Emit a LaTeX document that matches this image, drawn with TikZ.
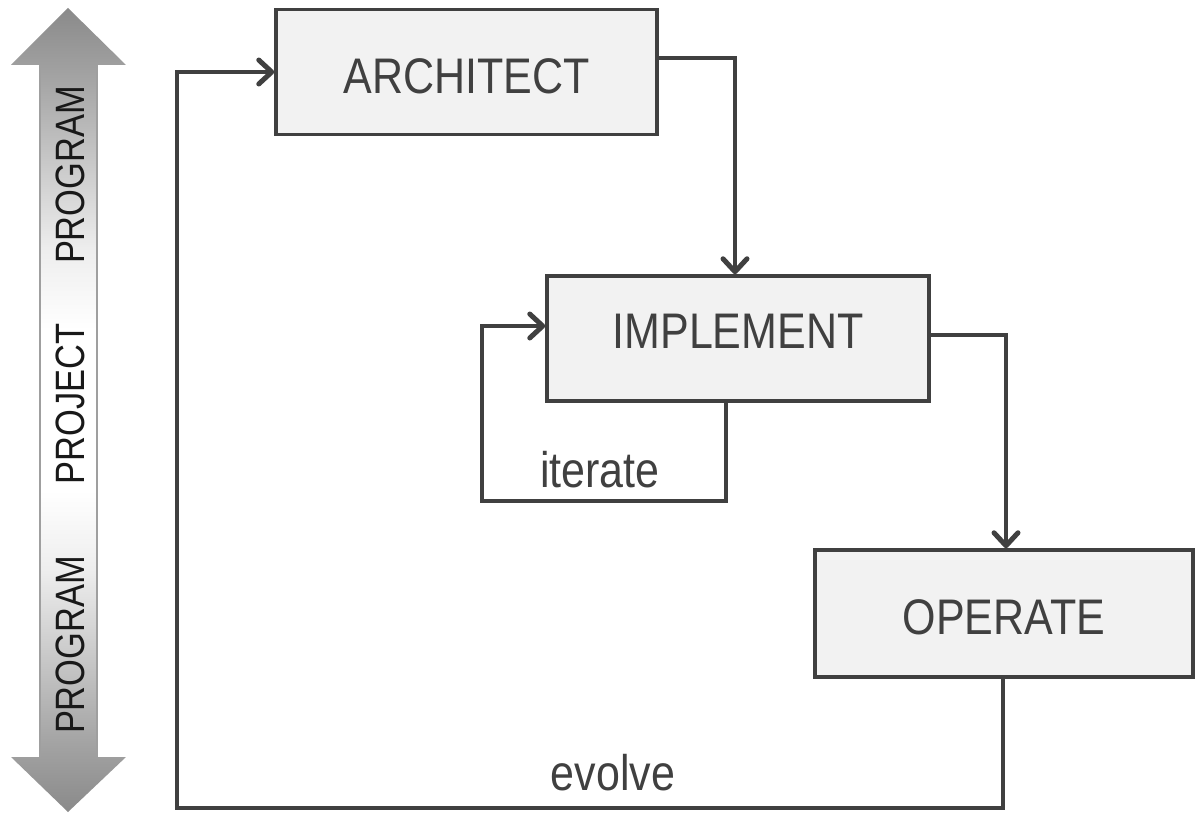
\documentclass[tikz,border=0pt]{standalone}
\usepackage{fontspec}
\setmainfont{Liberation Sans}[FakeStretch=0.86]
\newfontfamily\sidefont{Liberation Sans}[FakeStretch=0.84]
\usetikzlibrary{arrows.meta}
\definecolor{ink}{HTML}{404040}
\definecolor{boxfill}{HTML}{F2F2F2}
\definecolor{shaftgray}{HTML}{8A8A8A}
% grey ends fading to a wide white band in the middle
% (TikZ maps the band 25bp..75bp of a 100bp shading onto the path)
\pgfdeclareverticalshading{scopeshade}{100bp}{%
  color(0bp)=(shaftgray); color(25bp)=(shaftgray);
  color(29bp)=(shaftgray!80!white); color(40bp)=(shaftgray!15!white);
  color(45bp)=(white); color(55bp)=(white);
  color(60bp)=(shaftgray!15!white); color(71bp)=(shaftgray!80!white);
  color(75bp)=(shaftgray); color(100bp)=(shaftgray)}
\tikzset{
  stagebox/.style={draw=ink, fill=boxfill, line width=3.5pt, inner sep=0pt,
    text=ink, font=\fontsize{50}{60}\selectfont},
  conn/.style={draw=ink, line width=3.5pt,
    -{Straight Barb[length=13pt,width=24pt,round,line width=1.5pt 1]}},
  looplabel/.style={text=ink, font=\fontsize{50}{60}\selectfont, anchor=base, inner sep=0pt},
  scopelabel/.style={text=black!90, font=\sidefont\fontsize{41}{50}\selectfont,
    rotate=90, inner sep=0pt},
}
\begin{document}
\begin{tikzpicture}[x=1pt,y=-1pt]
\useasboundingbox (0,0) rectangle (1195,816);

% vertical scope arrow
\path[shading=scopeshade]
  (68,8) -- (126,65) -- (97,65) -- (97,757) -- (126,757) -- (68,812)
  -- (11,757) -- (40,757) -- (40,65) -- (11,65) -- cycle;
\draw[gray!75, line width=1.5pt] (40,65) -- (40,757);
\draw[gray!75, line width=1.5pt] (97,65) -- (97,757);

\node[scopelabel] (progtop) at (70,175) {PROGRAM};
\node[scopelabel] (proj) at (70,404) {PROJECT};
\node[scopelabel] (progbot) at (70,645) {PROGRAM};

% stage boxes
\node[stagebox, minimum width=381pt, minimum height=125pt,
  text height=42pt, text depth=0pt] (arch) at (466.5,72) {ARCHITECT};
\node[stagebox, minimum width=382pt, minimum height=125pt,
  text height=36pt, text depth=17pt] (impl) at (738,338.5) {IMPLEMENT};
\node[stagebox, minimum width=378pt, minimum height=127pt,
  text height=41pt, text depth=0pt] (op) at (1004,613.5) {OPERATE};

% bend points of the feedback loops
\coordinate (itcorner) at (482,501);
\coordinate (evcorner) at (177,808);

% forward flow
\draw[conn] ([yshift=14pt]arch.east) -| ([xshift=-3pt]impl.north);
\draw[conn] ([yshift=3.5pt]impl.east) -| ([xshift=2pt]op.north);

% iterate loop
\draw[conn] ([xshift=-12pt]impl.south) |- (itcorner) |- ([yshift=12.5pt]impl.west);
\node[looplabel] (iterlbl) at (600,487) {iterate};

% evolve loop
\draw[conn] ([xshift=-1pt]op.south) |- (evcorner) |- (arch.west);
\node[looplabel] (evlbl) at (613,790) {evolve};
\end{tikzpicture}
\end{document}
